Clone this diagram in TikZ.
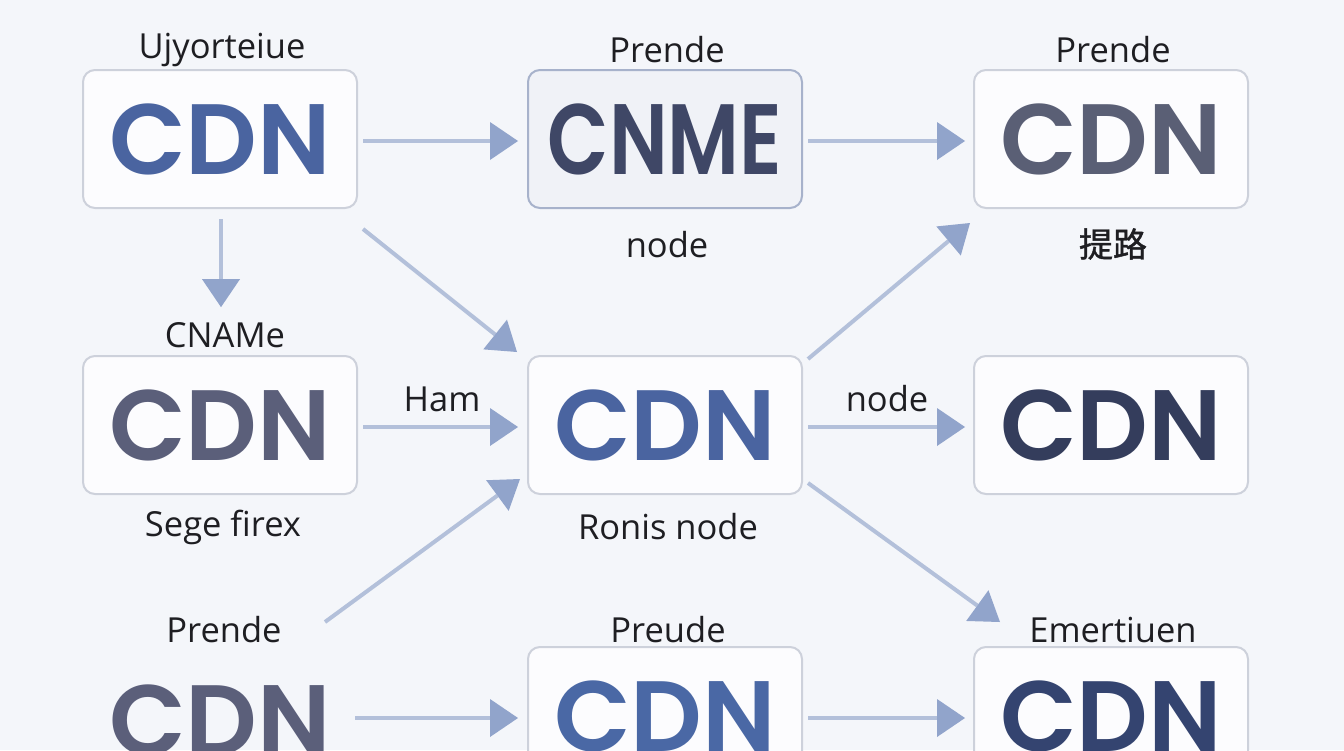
\documentclass[tikz,border=0pt]{standalone}
\usepackage{fontspec}
\setmainfont{Open Sans}
\newfontfamily\cdnfont{Poppins SemiBold}
\newfontfamily\cjk{Noto Sans CJK SC}[FakeBold=1.2]
\usetikzlibrary{arrows.meta}
\definecolor{bgc}{HTML}{F4F6FA}
\definecolor{boxfill}{HTML}{FCFCFE}
\definecolor{boxline}{HTML}{CDD1DB}
\definecolor{cnmeline}{HTML}{A7B2CB}
\definecolor{cnmefill}{HTML}{F0F2F7}
\definecolor{lineblue}{HTML}{B3C0DA}
\definecolor{tipblue}{HTML}{91A4CB}
\definecolor{txtdark}{HTML}{1E1E22}
\definecolor{cblue}{HTML}{4A64A0}
\definecolor{cslate}{HTML}{3F4766}
\definecolor{cgray}{HTML}{5A5F75}
\definecolor{cgray2}{HTML}{5B5F7A}
\definecolor{cnavy}{HTML}{343D5C}
\definecolor{cnavy2}{HTML}{344470}
\definecolor{cblue2}{HTML}{4A68A5}
\begin{document}
\begin{tikzpicture}[x=1pt,y=-1pt,
  cdnbox/.style={draw=boxline,line width=2pt,fill=boxfill,rounded corners=12pt,
    minimum width=274pt,minimum height=138pt,inner sep=0pt,
    font=\cdnfont\fontsize{100}{100}\selectfont,text depth=0pt},
  cdntext/.style={inner sep=0pt,font=\cdnfont\fontsize{100}{100}\selectfont,text depth=0pt},
  lbl/.style={inner sep=1pt,text=txtdark,font=\fontsize{34.5}{36}\selectfont},
  conn/.style={draw=lineblue,line width=4pt,
    -{Triangle[length=28pt,width=38pt,fill=tipblue,line width=0pt]}}
]
\useasboundingbox (0,0) rectangle (1344,750);
\fill[bgc] (0,0) rectangle (1344,750);
\begin{scope}
\clip (0,0) rectangle (1344,750);
% boxes
\node[cdnbox,text=cblue] (tl) at (220,139) {CDN};
\node[cdnbox,draw=cnmeline,fill=cnmefill,text=cslate] (tm) at (665,139) {\scalebox{0.8}[1]{CNME}};
\node[cdnbox,text=cgray] (tr) at (1111,139) {CDN};
\node[cdnbox,text=cgray2] (ml) at (220,425) {CDN};
\node[cdnbox,text=cblue] (mc) at (665,425) {CDN};
\node[cdnbox,text=cnavy] (mr) at (1111,425) {CDN};
\node[cdntext,text=cgray2] (bl) at (220,720) {CDN};
\node[cdnbox,text=cblue2] (bm) at (665,716) {CDN};
\node[cdnbox,text=cnavy2] (br) at (1111,716) {CDN};
% labels
\node[lbl] (ltl) at (222,50) {Ujyorteiue};
\node[lbl] (ltm) at (667,50) {Prende};
\node[lbl] (ltr) at (1113,50) {Prende};
\node[lbl] (ltmb) at (667,245) {node};
\node[lbl,font=\cjk\fontsize{34}{36}\selectfont] (ltrb) at (1113,244) {提路};
\node[lbl] (lml) at (225,335) {CNAMe};
\node[lbl] (lmlb) at (223,527) {Sege firex};
\node[lbl] (lmcb) at (668,527) {Ronis node};
\node[lbl] (lham) at (442,399) {Ham};
\node[lbl] (lnode) at (887,399) {node};
\node[lbl] (lbl1) at (224,630) {Prende};
\node[lbl] (lbm) at (668,630) {Preude};
\node[lbl] (lbr) at (1113,630) {Emertiuen};
% free ends
\coordinate (s1) at (325,622);
\coordinate (e1) at (1000,622);
\coordinate (blr) at (355,718);
% connectors
\draw[conn] ([shift={(5,2)}]tl.east) -- ([shift={(-9,2)}]tm.west);
\draw[conn] ([shift={(5,2)}]tm.east) -- ([shift={(-8,2)}]tr.west);
\draw[conn] ([shift={(1,10)}]tl.south) -- ([shift={(-4,-14)}]lml.north);
\draw[conn] ([shift={(5,20)}]tl.south east) -- ([shift={(-10,-3)}]mc.north west);
\draw[conn] ([shift={(5,4)}]mc.north east) -- ([shift={(-3,14)}]tr.south west);
\draw[conn] ([shift={(5,2)}]ml.east) -- ([shift={(-9,2)}]mc.west);
\draw[conn] ([shift={(5,2)}]mc.east) -- ([shift={(-8,2)}]mr.west);
\draw[conn] (s1) -- ([shift={(-7,-16)}]mc.south west);
\draw[conn] ([shift={(5,-12)}]mc.south east) -- (e1);
\draw[conn] (blr) -- ([shift={(-9,2)}]bm.west);
\draw[conn] ([shift={(5,2)}]bm.east) -- ([shift={(-8,2)}]br.west);
\end{scope}
\end{tikzpicture}
\end{document}
